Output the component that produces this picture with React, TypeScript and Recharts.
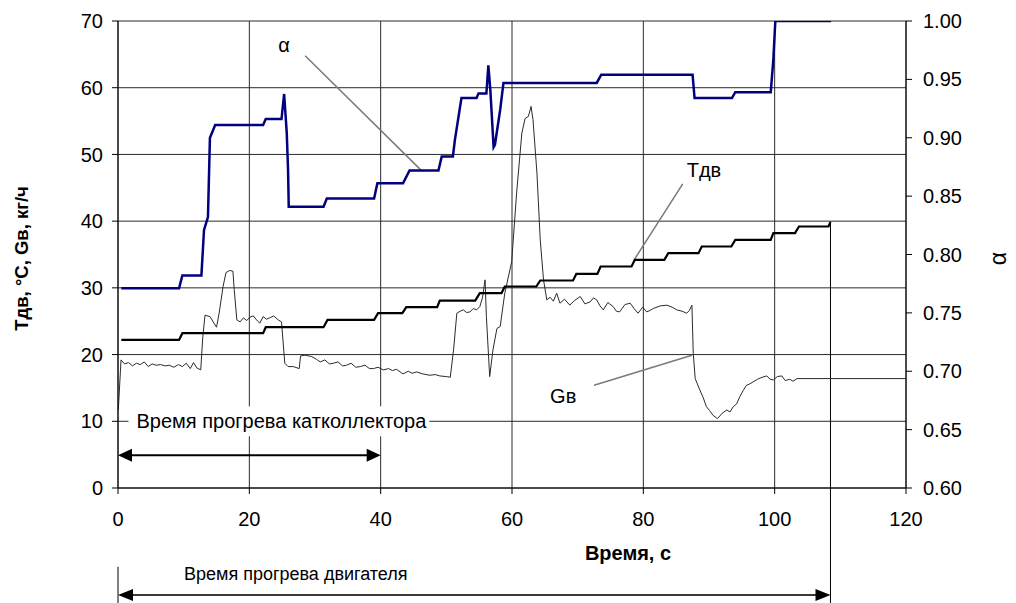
import React from 'react';
import {
  LineChart,
  Line,
  XAxis,
  YAxis,
  CartesianGrid,
  ReferenceLine,
} from 'recharts';

// Time axis (s) and the two value scales
const timeTicks = [0, 20, 40, 60, 80, 100, 120];
const leftTicks = [0, 10, 20, 30, 40, 50, 60, 70];
const alphaTicks = [0.6, 0.65, 0.7, 0.75, 0.8, 0.85, 0.9, 0.95, 1.0];

// Excess-air ratio α  [time s, α]
const alphaSeries: [number, number][] = [
  [0.5, 0.771], [9.3, 0.771], [9.8, 0.782], [12.7, 0.782], [13.1, 0.821],
  [13.7, 0.832], [14.0, 0.9], [14.8, 0.911], [22.1, 0.911], [22.5, 0.916],
  [24.9, 0.916], [25.3, 0.9375], [25.7, 0.904], [25.9, 0.872], [26.0, 0.841],
  [31.3, 0.841], [31.8, 0.848], [39.0, 0.848], [39.5, 0.861], [43.4, 0.861],
  [44.4, 0.872], [48.8, 0.872], [49.3, 0.884], [51.0, 0.884], [51.3, 0.898],
  [52.3, 0.934], [54.6, 0.934], [54.9, 0.938], [56.1, 0.938], [56.4, 0.962],
  [56.7, 0.941], [57.2, 0.892], [57.4, 0.894], [58.2, 0.924], [58.7, 0.947],
  [72.9, 0.947], [73.6, 0.954], [87.5, 0.954], [87.8, 0.934], [93.5, 0.934],
  [94.0, 0.939], [99.4, 0.939], [99.8, 0.967], [100.1, 1.0], [108.6, 1.0],
];

// Engine temperature Тдв, °С  [time s, value]
const engineTemp: [number, number][] = [
  [0.5, 22.2], [9.3, 22.2], [9.8, 23.2], [22.1, 23.2], [22.5, 24.1],
  [31.3, 24.1], [31.9, 25.2], [39.0, 25.2], [39.6, 26.2], [43.3, 26.2],
  [43.9, 27.1], [48.6, 27.1], [49.0, 28.1], [54.4, 28.1], [55.1, 29.2],
  [58.4, 29.2], [58.9, 30.2], [63.7, 30.2], [64.3, 31.1], [69.3, 31.1],
  [69.8, 32.1], [73.0, 32.1], [73.5, 33.2], [78.2, 33.2], [78.7, 34.2],
  [83.2, 34.2], [83.8, 35.2], [88.4, 35.2], [88.9, 36.2], [93.4, 36.2],
  [94.0, 37.2], [99.4, 37.2], [99.8, 38.2], [103.1, 38.2], [103.7, 39.2],
  [108.2, 39.2], [108.5, 39.9],
];

// Air flow Gв, кг/ч  [time s, value]
const airFlow: [number, number][] = [
  [0.05, 11.7], [0.46, 19.2], [1.0, 18.6], [1.6, 18.8], [2.2, 18.3], [2.8, 18.7],
  [3.4, 18.5], [4.0, 18.9], [4.6, 18.2], [5.2, 18.6], [5.8, 18.4], [6.5, 18.5],
  [7.2, 18.3], [7.8, 18.4], [8.5, 18.1], [9.2, 18.5], [9.8, 18.2], [10.4, 18.7],
  [11.0, 17.9], [11.5, 18.8], [12.0, 18.0], [12.6, 17.7], [12.9, 22.5], [13.25, 25.9],
  [14.0, 25.7], [14.5, 24.9], [15.0, 24.1], [15.4, 26.2], [16.0, 30.2], [16.45, 32.3],
  [17.0, 32.6], [17.5, 32.5], [17.7, 29.7], [18.1, 25.2], [18.6, 24.9], [19.1, 25.5],
  [19.6, 25.1], [20.1, 25.6], [20.6, 25.8], [21.1, 25.2], [21.6, 24.7], [22.1, 25.7],
  [22.6, 25.3], [23.1, 25.5], [23.7, 25.8], [24.4, 25.2], [24.9, 24.9], [25.4, 18.7],
  [25.9, 18.2], [26.7, 18.2], [27.6, 17.9], [27.8, 19.8], [28.5, 19.9], [29.5, 19.7],
  [30.2, 19.3], [30.8, 18.9], [31.5, 19.2], [32.2, 18.6], [32.8, 18.7], [33.5, 18.9],
  [34.2, 18.3], [34.8, 18.4], [35.5, 18.7], [36.2, 18.1], [36.9, 18.2], [37.6, 18.4],
  [38.3, 17.9], [38.9, 17.9], [39.6, 18.1], [40.4, 17.7], [41.2, 17.9], [41.8, 17.6],
  [42.4, 17.8], [43.4, 17.1], [44.2, 17.5], [44.8, 17.2], [45.5, 17.4], [46.4, 17.1],
  [47.5, 16.9], [48.3, 17.0], [49.0, 16.8], [50.0, 16.7], [50.6, 16.6], [51.1, 20.7],
  [51.6, 26.2], [52.1, 26.5], [52.6, 26.7], [53.1, 26.3], [53.6, 26.4], [54.1, 26.9],
  [54.6, 26.7], [55.1, 27.2], [55.5, 28.5], [55.9, 31.2], [56.1, 25.7], [56.6, 16.7],
  [57.1, 20.7], [57.7, 23.9], [58.2, 24.2], [58.9, 29.2], [59.95, 33.9], [60.7, 44.2],
  [61.5, 53.2], [62.0, 55.4], [62.5, 55.7], [62.9, 57.2], [63.2, 55.2], [63.8, 47.2],
  [64.3, 37.2], [64.8, 31.2], [65.3, 28.2], [65.8, 28.6], [66.3, 28.0], [66.8, 29.2],
  [67.3, 27.7], [68.0, 28.3], [68.8, 27.4], [69.5, 28.1], [70.4, 28.7], [71.1, 27.6],
  [71.9, 27.9], [72.4, 28.5], [72.9, 28.2], [73.4, 27.3], [73.9, 26.7], [74.6, 27.8],
  [75.4, 27.2], [75.9, 26.5], [76.4, 26.4], [77.2, 27.5], [78.0, 27.7], [78.6, 26.9],
  [79.2, 26.2], [79.9, 27.1], [80.5, 26.4], [81.0, 26.6], [81.5, 26.9], [82.6, 27.3],
  [83.6, 27.4], [84.4, 27.1], [85.1, 26.7], [85.9, 26.5], [86.6, 26.2], [87.0, 26.6],
  [87.4, 27.4], [87.6, 20.2], [87.9, 16.4], [88.6, 14.7], [89.1, 13.6], [89.6, 12.2],
  [90.1, 11.6], [90.6, 10.9], [91.3, 10.4], [92.0, 11.2], [92.7, 11.7], [93.2, 11.4],
  [93.7, 12.2], [94.2, 12.6], [94.7, 13.7], [95.2, 14.6], [95.7, 15.4], [96.2, 15.6],
  [96.7, 15.9], [97.4, 16.3], [98.1, 16.6], [98.8, 16.8], [99.3, 16.3], [99.8, 16.2],
  [100.4, 16.7], [101.1, 16.8], [101.6, 16.1], [102.3, 16.3], [102.8, 16.0], [103.4, 16.4],
  [120, 16.4],
];

// Warm-up intervals, s
const catalystWarmUp = 40;
const engineWarmUp = 108.5;

const toRows = (pts: [number, number][]) => pts.map(([t, v]) => ({ t, v }));
const alphaData = toRows(alphaSeries);
const tempData = toRows(engineTemp);
const airData = toRows(airFlow);

const FONT = '"Liberation Sans", Arial, Helvetica, sans-serif';

// Horizontal double-headed arrow between the segment ends
const arrowShape = (color: string, width: number, headL: number, headH: number) => (p: any) => {
  const { x1, y1, x2 } = p;
  return (
    <g>
      <line x1={x1 + headL - 1} y1={y1} x2={x2 - headL + 1} y2={y1} stroke={color} strokeWidth={width} />
      <polygon points={`${x1},${y1} ${x1 + headL},${y1 - headH / 2} ${x1 + headL},${y1 + headH / 2}`} fill="#000" />
      <polygon points={`${x2},${y1} ${x2 - headL},${y1 - headH / 2} ${x2 - headL},${y1 + headH / 2}`} fill="#000" />
    </g>
  );
};

// Caption sitting on a white box over the grid
const boxedCaption = (text: string) => (p: any) => {
  const { x1, y1, x2 } = p;
  return (
    <g>
      <rect x={x1} y={y1 - 15} width={x2 - x1} height={30} fill="#fff" />
      <text x={x1 + 8} y={y1 + 7} fontSize={20} fontFamily={FONT} fill="#000">
        {text}
      </text>
    </g>
  );
};

// Leader line with its series name
const leader = (text: string, dx: number, dy: number, anchor: string) => (p: any) => {
  const { x1, y1, x2, y2 } = p;
  return (
    <g>
      <line x1={x1} y1={y1} x2={x2} y2={y2} stroke="#7a7a7a" strokeWidth={1.5} />
      <text x={x1 + dx} y={y1 + dy} fontSize={20} fontFamily={FONT} fill="#000" textAnchor={anchor}>
        {text}
      </text>
    </g>
  );
};

const engineArrow = (p: any) => {
  const base = arrowShape('#3a3a3a', 2, 15, 12)(p);
  return (
    <g>
      {base}
      <text x={p.x1 + 66} y={p.y1 - 15} fontSize={18} fontFamily={FONT} fill="#000">
        Время прогрева двигателя
      </text>
    </g>
  );
};

const leftTitle = (props: any) => {
  const vb = props.viewBox;
  const cx = vb.x + 20;
  const cy = vb.y + vb.height / 2 + 4;
  return (
    <text
      x={cx}
      y={cy}
      transform={`rotate(-90, ${cx}, ${cy})`}
      textAnchor="middle"
      fontSize={18.5}
      fontWeight="bold"
      fontFamily={FONT}
      fill="#000"
    >
      Тдв, °С, Gв, кг/ч
    </text>
  );
};

const rightTitle = (props: any) => {
  const vb = props.viewBox;
  const cx = vb.x + 100;
  const cy = vb.y + vb.height / 2 + 4;
  return (
    <text
      x={cx}
      y={cy}
      transform={`rotate(-90, ${cx}, ${cy})`}
      textAnchor="middle"
      fontSize={23}
      fontFamily={FONT}
      fill="#000"
    >
      α
    </text>
  );
};

const bottomTitle = (props: any) => {
  const vb = props.viewBox;
  return (
    <text
      x={vb.x + 510}
      y={vb.y + vb.height + 32}
      textAnchor="middle"
      fontSize={20}
      fontWeight="bold"
      fontFamily={FONT}
      fill="#000"
    >
      Время, с
    </text>
  );
};

const tickStyle = { fill: '#000', fontSize: 20, fontFamily: FONT };

export default function App() {
  return (
    <LineChart
      width={1008}
      height={595}
      margin={{ top: 13, right: 0, bottom: 75, left: 0 }}
      style={{ background: '#fff' }}
    >
      <CartesianGrid yAxisId="left" stroke="#2a2a2a" strokeWidth={1} />
      <XAxis
        dataKey="t"
        type="number"
        domain={[0, 120]}
        ticks={timeTicks}
        allowDataOverflow
        height={40}
        tickSize={6}
        tickMargin={18}
        tick={tickStyle}
        stroke="#000"
        axisLine={{ stroke: '#000' }}
        tickLine={{ stroke: '#000' }}
        label={bottomTitle}
      />
      <YAxis
        yAxisId="left"
        domain={[0, 70]}
        ticks={leftTicks}
        width={110}
        tickSize={6}
        tickMargin={9}
        tick={tickStyle}
        stroke="#000"
        axisLine={{ stroke: '#000' }}
        tickLine={{ stroke: '#000' }}
        label={leftTitle}
      />
      <YAxis
        yAxisId="right"
        orientation="right"
        domain={[0.6, 1.0]}
        ticks={alphaTicks}
        allowDataOverflow
        width={110}
        tickSize={6}
        tickMargin={11}
        tick={tickStyle}
        tickFormatter={(v: number) => v.toFixed(2)}
        stroke="#000"
        axisLine={{ stroke: '#000' }}
        tickLine={{ stroke: '#000' }}
        label={rightTitle}
      />

      <ReferenceLine
        yAxisId="left"
        ifOverflow="visible"
        segment={[{ x: 1.6, y: 10 }, { x: 47.4, y: 10 }]}
        shape={boxedCaption('Время прогрева катколлектора')}
      />
      <ReferenceLine
        yAxisId="left"
        ifOverflow="visible"
        segment={[{ x: 0, y: 4.9 }, { x: catalystWarmUp, y: 4.9 }]}
        shape={arrowShape('#000', 2, 14, 13)}
      />
      <ReferenceLine
        yAxisId="left"
        ifOverflow="visible"
        segment={[{ x: 0, y: -16.05 }, { x: engineWarmUp, y: -16.05 }]}
        shape={engineArrow}
      />
      <ReferenceLine
        yAxisId="left"
        ifOverflow="visible"
        segment={[{ x: 0, y: -11.8 }, { x: 0, y: -17.3 }]}
        stroke="#000"
        strokeWidth={1}
      />
      <ReferenceLine
        yAxisId="left"
        ifOverflow="visible"
        segment={[{ x: engineWarmUp, y: 39.9 }, { x: engineWarmUp, y: -17.3 }]}
        stroke="#000"
        strokeWidth={1}
      />
      <ReferenceLine
        yAxisId="left"
        ifOverflow="visible"
        segment={[{ x: 28.5, y: 64.8 }, { x: 46.3, y: 47.5 }]}
        shape={leader('α', -21, -4, 'middle')}
      />
      <ReferenceLine
        yAxisId="left"
        ifOverflow="visible"
        segment={[{ x: 86.0, y: 45.6 }, { x: 78.6, y: 34.2 }]}
        shape={leader('Тдв', 4, -7, 'start')}
      />
      <ReferenceLine
        yAxisId="left"
        ifOverflow="visible"
        segment={[{ x: 72.5, y: 15.4 }, { x: 87.4, y: 19.9 }]}
        shape={leader('Gв', -44, 18, 'start')}
      />

      <Line
        yAxisId="left"
        data={airData}
        dataKey="v"
        type="linear"
        stroke="#2b2b2b"
        strokeWidth={1}
        dot={false}
        activeDot={false}
        isAnimationActive={false}
      />
      <Line
        yAxisId="left"
        data={tempData}
        dataKey="v"
        type="linear"
        stroke="#000"
        strokeWidth={2.2}
        dot={false}
        activeDot={false}
        isAnimationActive={false}
      />
      <Line
        yAxisId="right"
        data={alphaData}
        dataKey="v"
        type="linear"
        stroke="#000080"
        strokeWidth={2.5}
        dot={false}
        activeDot={false}
        isAnimationActive={false}
      />
    </LineChart>
  );
}
